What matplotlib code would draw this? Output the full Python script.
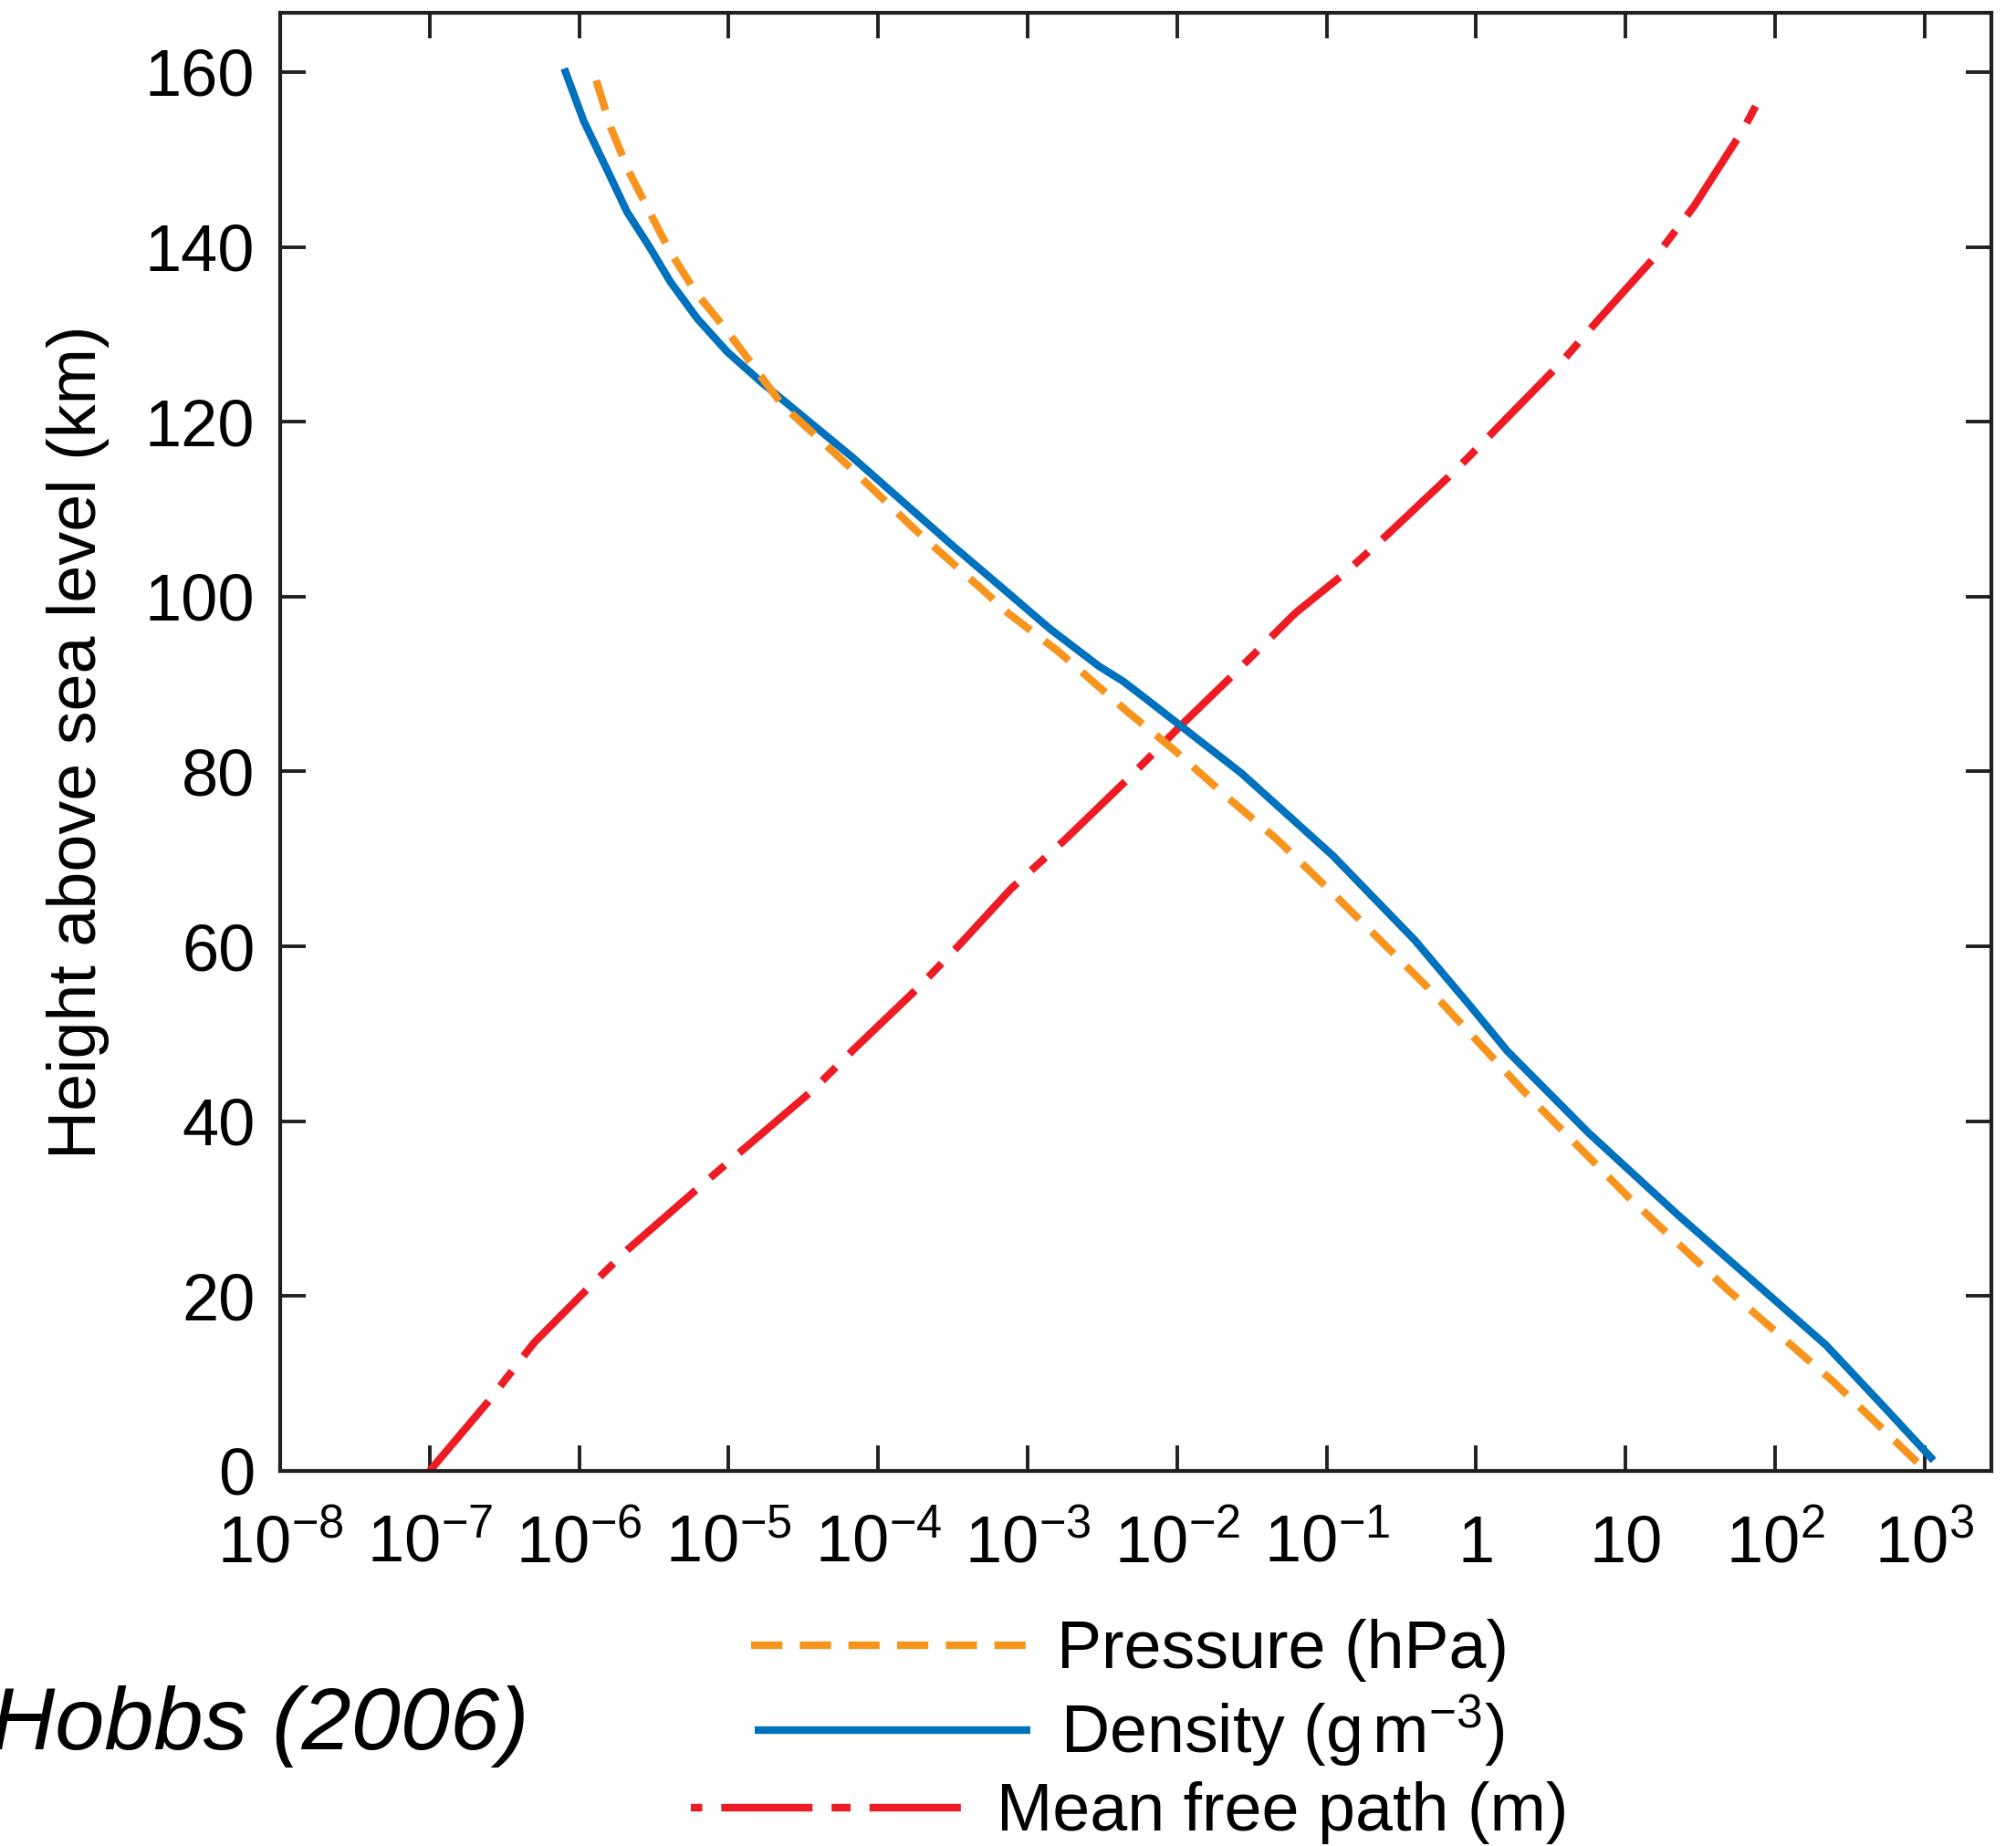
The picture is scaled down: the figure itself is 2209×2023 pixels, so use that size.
import matplotlib.pyplot as plt
import numpy as np
from matplotlib.lines import Line2D
from matplotlib.ticker import NullLocator

plt.rcParams['font.family'] = ['Liberation Sans', 'DejaVu Sans']
plt.rcParams['mathtext.fontset'] = 'custom'
plt.rcParams['mathtext.rm'] = 'Liberation Sans'
plt.rcParams['mathtext.it'] = 'Liberation Sans:italic'
plt.rcParams['mathtext.bf'] = 'Liberation Sans:bold'

# heights in km, values stored as log10
pressure_km = [1.0, 10.2, 20.6, 31.3, 43.4, 55.4, 65.6, 72.2, 76.7, 82.6, 86.8, 93.8,
               98.1, 100.6, 107.6, 114.5, 121.9, 130.6, 134.8, 139.4, 144.0, 148.7, 153.7, 160.4]
pressure_log = [2.95, 2.39, 1.69, 1.02, 0.32, -0.33, -0.93, -1.33, -1.64, -2.03, -2.33, -2.80,
                -3.13, -3.29, -3.75, -4.17, -4.64, -5.02, -5.22, -5.39, -5.53, -5.67, -5.79, -5.91]

density_km = [1.2, 7.3, 14.4, 29.2, 38.7, 48.0, 53.4, 60.7, 70.4, 79.8, 85.0, 88.2, 90.3, 92.0,
              96.3, 100.7, 105.8, 115.9, 124.5, 128.0, 131.8, 136.0, 140.0, 144.0, 148.7, 154.4, 160.4]
density_log = [3.06, 2.73, 2.34, 1.355, 0.75, 0.21, -0.05, -0.41, -0.96, -1.57, -1.96, -2.20, -2.36, -2.52,
               -2.85, -3.15, -3.50, -4.17, -4.78, -5.01, -5.21, -5.39, -5.53, -5.68, -5.81, -5.97, -6.10]

mfp_km = [0.0, 7.9, 14.7, 20.9, 25.4, 32.4, 36.8, 43.5, 48.1, 55.3, 60.1, 66.6, 72.2, 79.3,
          85.0, 91.3, 98.1, 102.8, 107.3, 114.4, 119.1, 126.6, 131.7, 139.5, 144.7, 153.5, 156.1]
mfp_log = [-7.0, -6.61, -6.30, -5.94, -5.67, -5.20, -4.90, -4.44, -4.17, -3.73, -3.46, -3.11, -2.75, -2.32,
           -1.99, -1.61, -1.21, -0.87, -0.58, -0.14, 0.13, 0.56, 0.82, 1.23, 1.46, 1.79, 1.87]

x_ticks = [1e-8, 1e-7, 1e-6, 1e-5, 1e-4, 1e-3, 1e-2, 1e-1, 1, 10, 1e2, 1e3]
x_ticklabels = [r'$10^{-8}$', r'$10^{-7}$', r'$10^{-6}$', r'$10^{-5}$', r'$10^{-4}$', r'$10^{-3}$',
                r'$10^{-2}$', r'$10^{-1}$', '1', '10', r'$10^{2}$', r'$10^{3}$']
y_ticks = [0, 20, 40, 60, 80, 100, 120, 140, 160]

ORANGE = '#F7941D'
BLUE = '#0071BC'
RED = '#ED1C24'
INK = '#231F20'
LW = 6
DASH = (4.1, 2.3)
DASHDOT = (12, 2.5, 2.5, 2.5)

fig = plt.figure(figsize=(22.09, 20.23), dpi=100)
ax = fig.add_axes([0.139, 0.2032, 0.849, 0.790])

ax.plot(10 ** np.array(mfp_log), mfp_km, color=RED, lw=LW,
        linestyle=(0, DASHDOT), zorder=2)
ax.plot(10 ** np.array(density_log), density_km, color=BLUE, lw=LW,
        solid_capstyle='butt', solid_joinstyle='round', zorder=3)
ax.plot(10 ** np.array(pressure_log), pressure_km, color=ORANGE, lw=LW,
        linestyle=(0, DASH), zorder=4)

ax.set_xscale('log')
ax.set_xlim(1e-8, 10 ** 3.45)
ax.set_ylim(0, 166.8)
ax.set_xticks(x_ticks, labels=x_ticklabels, va='baseline')
ax.xaxis.set_minor_locator(NullLocator())
ax.set_yticks(y_ticks)

for sp in ax.spines.values():
    sp.set_linewidth(3)
    sp.set_color(INK)
ax.tick_params(which='both', direction='in', top=True, right=True, length=20, width=2.8,
               color=INK, labelsize=52)
ax.tick_params(axis='x', pad=72)
ax.tick_params(axis='y', pad=20)

ax.set_ylabel('Height above sea level (km)', fontsize=53)
ax.yaxis.set_label_coords(-0.1, 0.5)

# legend handles (red one starts mid-dot, like the original)
h_pre = Line2D([], [], color=ORANGE, lw=LW, linestyle=(0, DASH))
h_den = Line2D([], [], color=BLUE, lw=LW, solid_capstyle='butt')
h_mfp = Line2D([], [], color=RED, lw=LW, linestyle=(15.5, DASHDOT))

rows = [(h_pre, 'Pressure (hPa)', 0.1058),
        (h_den, r'Density (g$\,$m$^{-3}$)', 0.0623),
        (h_mfp, 'Mean free path (m)', 0.0178)]
for h, txt, yy in rows:
    fig.legend([h], [txt], loc='center', bbox_to_anchor=(0.5605, yy), frameon=False,
               fontsize=53, handlelength=4.1, handletextpad=0.45, borderpad=0, borderaxespad=0)

fig.text(0.2625, 0.065, 'Hobbs (2006)', ha='right', va='center', fontsize=70, style='italic')

fig.savefig('out.png', dpi=100)
